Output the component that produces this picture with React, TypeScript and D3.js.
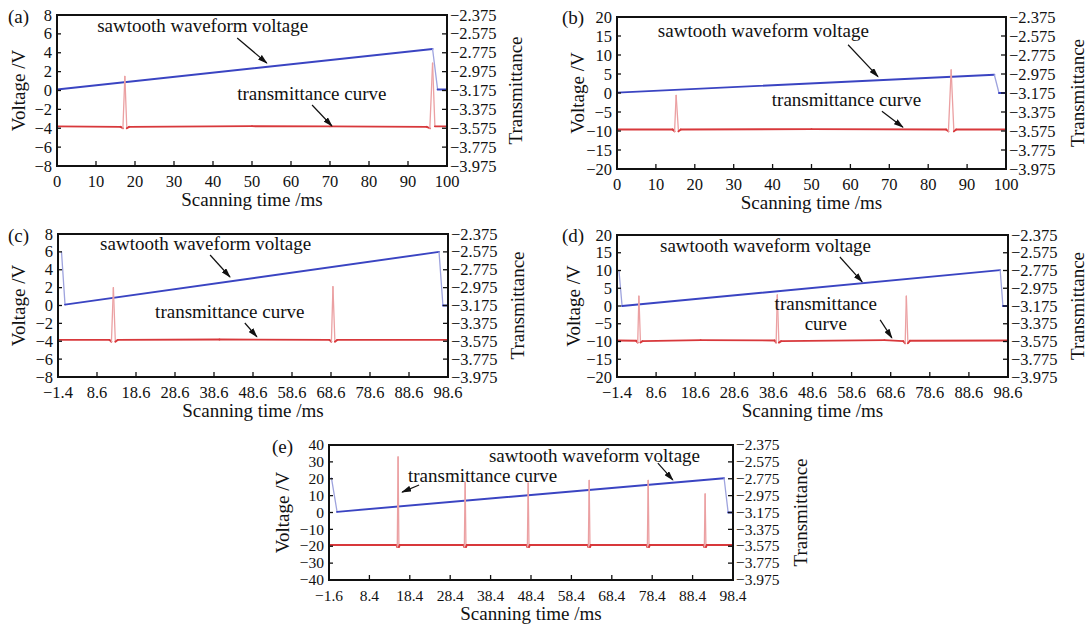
import React from "react";
import * as d3 from "d3";

type Pt = [number, number];

// ---------- DATA ----------
const xTicksAB = [0, 10, 20, 30, 40, 50, 60, 70, 80, 90, 100];
const xTicksCD = [-1.4, 8.6, 18.6, 28.6, 38.6, 48.6, 58.6, 68.6, 78.6, 88.6, 98.6];
const xTicksE = [-1.6, 8.4, 18.4, 28.4, 38.4, 48.4, 58.4, 68.4, 78.4, 88.4, 98.4];
const yTicks8 = [-8, -6, -4, -2, 0, 2, 4, 6, 8];
const yTicks20 = [-20, -15, -10, -5, 0, 5, 10, 15, 20];
const yTicks40 = [-40, -30, -20, -10, 0, 10, 20, 30, 40];
const transTicks = [-2.375, -2.575, -2.775, -2.975, -3.175, -3.375, -3.575, -3.775, -3.975];

const sawA: Pt[] = [[0, 0.1], [96.3, 4.4], [97.6, 0.1], [100, 0.1]];
const transA: Pt[] = [[0, -3.8], [16.3, -3.85], [16.9, -4.0], [17.4, 1.5], [17.9, -4.0], [18.5, -3.85], [50, -3.78], [70, -3.8], [94.8, -3.85], [95.6, -4.0], [96.3, 2.9], [96.9, -3.8], [100, -3.8]];

const sawB: Pt[] = [[0, 0.1], [97, 4.8], [98.2, 0], [100, 0]];
const transB: Pt[] = [[0, -9.6], [14.3, -9.6], [14.8, -10.1], [15.2, -0.6], [15.8, -10.1], [16.4, -9.6], [50, -9.5], [84.6, -9.6], [85.2, -10.1], [85.9, 6.1], [86.6, -10.1], [87.2, -9.6], [100, -9.6]];

const sawC: Pt[] = [[-0.5, 6.0], [0.4, 0.1], [96.3, 6.0], [97.3, 0], [98.6, 0]];
const transC: Pt[] = [[-1.4, -3.85], [11.8, -3.85], [12.3, -4.05], [12.8, 2.0], [13.3, -4.05], [13.9, -3.85], [40, -3.8], [68.2, -3.85], [68.7, -4.05], [69.1, 2.1], [69.6, -4.05], [70.2, -3.85], [98.6, -3.85]];

const sawD: Pt[] = [[-0.9, 10], [-0.1, 0], [96.6, 10.1], [97.3, 0], [98.6, 0]];
const transD: Pt[] = [[-1.4, -9.7], [3.5, -9.8], [3.9, -10.3], [4.2, 2.8], [4.6, -10.3], [5.1, -9.9], [20, -9.6], [38.9, -9.7], [39.3, -10.3], [39.6, 3.1], [40.0, -10.3], [40.6, -9.9], [67, -9.6], [71.8, -9.9], [72.3, -10.5], [72.6, 2.8], [73.0, -10.5], [73.5, -9.8], [98.6, -9.7]];

const sawE: Pt[] = [[-1.0, 20.5], [0.4, 0.4], [96.2, 20.3], [97.2, 0], [98.4, 0]];
const transE: Pt[] = [[-1.6, -19.3], [15.1, -19.3], [15.3, -20.5], [15.5, 33], [15.7, -20.5], [15.9, -19.3], [31.7, -19.3], [31.9, -20.5], [32.1, 18], [32.3, -20.5], [32.5, -19.3], [47.3, -19.3], [47.5, -20.5], [47.7, 17.5], [47.9, -20.5], [48.1, -19.3], [62.4, -19.3], [62.6, -20.5], [62.8, 19], [63.0, -20.5], [63.2, -19.3], [77.0, -19.3], [77.2, -20.5], [77.4, 19], [77.6, -20.5], [77.8, -19.3], [91.1, -19.3], [91.3, -20.5], [91.5, 11], [91.7, -20.5], [91.9, -19.3], [98.4, -19.3]];

const panelLetters = ["(a)", "(b)", "(c)", "(d)", "(e)"];
const sawText = "sawtooth waveform voltage";
const transText = "transmittance curve";

// ---------- LAYOUT ----------
interface Ann { tx: number; tv: number; lines: string[]; anchor: string; a1: Pt; a2: Pt; }
interface Cfg {
  letter: string; left: number; right: number; top: number; bottom: number;
  xDomain: [number, number]; yDomain: [number, number];
  xTicks: number[]; yTicks: number[]; saw: Pt[]; trans: Pt[];
  letterX: number; letterY: number; vLabelX: number; tLabelX: number; tickFs: number;
  anns: Ann[];
}

const panels: Cfg[] = [
  {
    letter: panelLetters[0], left: 57, right: 447, top: 15, bottom: 166,
    xDomain: [0, 100], yDomain: [-8, 8], xTicks: xTicksAB, yTicks: yTicks8, saw: sawA, trans: transA,
    letterX: 8, letterY: 23, vLabelX: 18, tLabelX: 515, tickFs: 16.5,
    anns: [
      { tx: 10.3, tv: 6.2, lines: [sawText], anchor: "start", a1: [46.2, 5.56], a2: [53.8, 2.91] },
      { tx: 46.2, tv: -1.0, lines: [transText], anchor: "start", a1: [65.4, -1.54], a2: [70.5, -3.76] },
    ],
  },
  {
    letter: panelLetters[1], left: 617, right: 1006, top: 17, bottom: 169,
    xDomain: [0, 100], yDomain: [-20, 20], xTicks: xTicksAB, yTicks: yTicks20, saw: sawB, trans: transB,
    letterX: 562, letterY: 24, vLabelX: 577, tLabelX: 1077, tickFs: 16.5,
    anns: [
      { tx: 10.5, tv: 14.8, lines: [sawText], anchor: "start", a1: [59.4, 12.7], a2: [67.1, 4.3] },
      { tx: 39.8, tv: -3.5, lines: [transText], anchor: "start", a1: [68.1, -4.8], a2: [73.5, -9.0] },
    ],
  },
  {
    letter: panelLetters[2], left: 58, right: 448, top: 234, bottom: 377,
    xDomain: [-1.4, 98.6], yDomain: [-8, 8], xTicks: xTicksCD, yTicks: yTicks8, saw: sawC, trans: transC,
    letterX: 8, letterY: 242, vLabelX: 18, tLabelX: 517, tickFs: 16.5,
    anns: [
      { tx: 9.4, tv: 6.2, lines: [sawText], anchor: "start", a1: [37.6, 5.65], a2: [42.7, 3.19] },
      { tx: 23.5, tv: -1.4, lines: [transText], anchor: "start", a1: [46.5, -1.96], a2: [49.6, -3.5] },
    ],
  },
  {
    letter: panelLetters[3], left: 617, right: 1008, top: 235, bottom: 377,
    xDomain: [-1.4, 98.6], yDomain: [-20, 20], xTicks: xTicksCD, yTicks: yTicks20, saw: sawD, trans: transD,
    letterX: 562, letterY: 242, vLabelX: 573, tLabelX: 1077, tickFs: 16.5,
    anns: [
      { tx: 9.6, tv: 15.2, lines: [sawText], anchor: "start", a1: [55.6, 13.8], a2: [61.3, 6.8] },
      { tx: 52.0, tv: -1.1, lines: ["transmittance", "curve"], anchor: "middle", a1: [65.9, -3.9], a2: [68.9, -9.0] },
    ],
  },
  {
    letter: panelLetters[4], left: 329, right: 733, top: 445, bottom: 580,
    xDomain: [-1.6, 98.4], yDomain: [-40, 40], xTicks: xTicksE, yTicks: yTicks40, saw: sawE, trans: transE,
    letterX: 272, letterY: 453, vLabelX: 282, tLabelX: 800, tickFs: 15.5,
    anns: [
      { tx: 38.0, tv: 29.9, lines: [sawText], anchor: "start", a1: [79.8, 29.3], a2: [83.5, 19.3] },
      { tx: 17.95, tv: 18.1, lines: [transText], anchor: "start", a1: [20.7, 16.3], a2: [16.5, 12.1] },
    ],
  },
];

const FONT = "'Liberation Serif', 'Times New Roman', serif";
const sawColor = "#3a44c2";
const sawLight = "#9ea3de";
const transColor = "#d8383b";
const transLight = "#eba0a2";

const fmt = (v: number) => (v < 0 ? "\u2212" + Math.abs(v) : String(v));
const fmtT = (v: number) => "\u2212" + d3.format(".3f")(Math.abs(v));

function Series({ pts, x, y, strong, light }: { pts: Pt[]; x: any; y: any; strong: string; light: string }) {
  const segs = [] as any[];
  for (let i = 0; i < pts.length - 1; i++) {
    const x1 = x(pts[i][0]), y1 = y(pts[i][1]), x2 = x(pts[i + 1][0]), y2 = y(pts[i + 1][1]);
    const steep = Math.abs(y2 - y1) > 12 && Math.abs(y2 - y1) > 3 * Math.abs(x2 - x1);
    segs.push(
      <line key={i} x1={x1} y1={y1} x2={x2} y2={y2}
        stroke={steep ? light : strong} strokeWidth={steep ? 1.3 : 1.9} strokeLinecap="round" />
    );
  }
  return <g>{segs}</g>;
}

function Panel({ c, idx }: { c: Cfg; idx: number }) {
  const x = d3.scaleLinear().domain(c.xDomain).range([c.left, c.right]);
  const y = d3.scaleLinear().domain(c.yDomain).range([c.bottom, c.top]);
  const yT = d3.scaleLinear().domain([-3.975, -2.375]).range([c.bottom, c.top]);
  const midY = (c.top + c.bottom) / 2;
  const midX = (c.left + c.right) / 2;
  const fs = c.tickFs;
  const off = fs / 3;
  return (
    <g>
      <defs>
        <clipPath id={"clip" + idx}>
          <rect x={c.left} y={c.top} width={c.right - c.left} height={c.bottom - c.top} />
        </clipPath>
      </defs>
      <g clipPath={`url(#clip${idx})`}>
        <Series pts={c.saw} x={x} y={y} strong={sawColor} light={sawLight} />
        <Series pts={c.trans} x={x} y={y} strong={transColor} light={transLight} />
      </g>
      <rect x={c.left} y={c.top} width={c.right - c.left} height={c.bottom - c.top}
        fill="none" stroke="#111" strokeWidth={2} />
      {c.xTicks.map((t) => (
        <g key={"x" + t}>
          <line x1={x(t)} x2={x(t)} y1={c.bottom} y2={c.bottom - 5} stroke="#111" strokeWidth={1.3} />
          <text x={x(t)} y={c.bottom + 21} textAnchor="middle" fontSize={fs} fontFamily={FONT} fill="#111">{fmt(t)}</text>
        </g>
      ))}
      {c.yTicks.map((t) => (
        <g key={"y" + t}>
          <line x1={c.left} x2={c.left + 4} y1={y(t)} y2={y(t)} stroke="#111" strokeWidth={1.3} />
          <text x={c.left - 5} y={y(t) + off} textAnchor="end" fontSize={fs} fontFamily={FONT} fill="#111">{fmt(t)}</text>
        </g>
      ))}
      {transTicks.map((t) => (
        <g key={"t" + t}>
          <line x1={c.right} x2={c.right - 5} y1={yT(t)} y2={yT(t)} stroke="#111" strokeWidth={1.3} />
          <text x={c.right + 3} y={yT(t) + off} textAnchor="start" fontSize={fs} fontFamily={FONT} fill="#111">{fmtT(t)}</text>
        </g>
      ))}
      <text x={c.letterX} y={c.letterY} fontSize={19} fontFamily={FONT} fill="#111">{c.letter}</text>
      <text x={midX} y={c.bottom + 40} textAnchor="middle" fontSize={19} fontFamily={FONT} fill="#111">Scanning time /ms</text>
      <text transform={`translate(${c.vLabelX},${midY}) rotate(-90)`} textAnchor="middle" dominantBaseline="central"
        fontSize={19} fontFamily={FONT} fill="#111">Voltage /V</text>
      <text transform={`translate(${c.tLabelX},${midY}) rotate(-90)`} textAnchor="middle" dominantBaseline="central"
        fontSize={19} fontFamily={FONT} fill="#111">Transmittance</text>
      {c.anns.map((a, i) => (
        <g key={"a" + i}>
          {a.lines.map((ln, j) => (
            <text key={j} x={x(a.tx)} y={y(a.tv) + j * 20} textAnchor={a.anchor} fontSize={19} fontFamily={FONT} fill="#111">{ln}</text>
          ))}
          <line x1={x(a.a1[0])} y1={y(a.a1[1])} x2={x(a.a2[0])} y2={y(a.a2[1])} stroke="#111" strokeWidth={1.2} markerEnd="url(#arrowhead)" />
        </g>
      ))}
    </g>
  );
}

export default function App() {
  return (
    <svg width={1088} height={624} viewBox="0 0 1088 624" style={{ position: "absolute", left: 0, top: 0, background: "#fff" }}>
      <defs>
        <marker id="arrowhead" markerWidth={10} markerHeight={6} refX={9} refY={3} orient="auto" markerUnits="userSpaceOnUse">
          <path d="M0,0 L10,3 L0,6 z" fill="#111" />
        </marker>
      </defs>
      <rect x={0} y={0} width={1088} height={624} fill="#fff" />
      {panels.map((p, i) => <Panel key={i} c={p} idx={i} />)}
    </svg>
  );
}
